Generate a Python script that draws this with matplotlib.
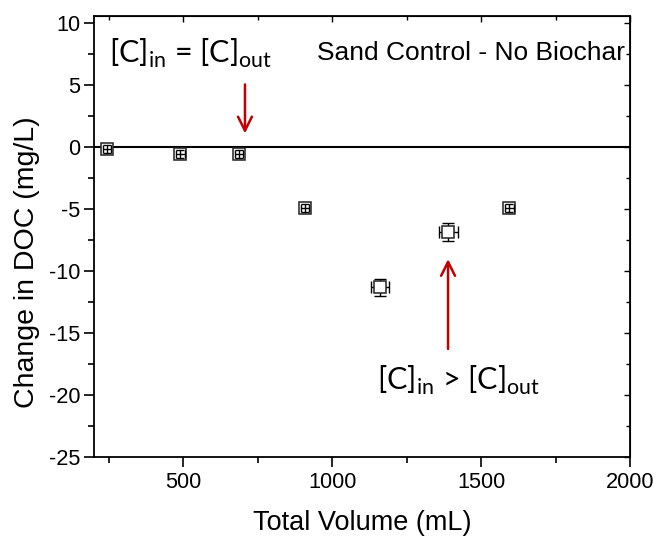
import matplotlib
matplotlib.use("Agg")
import matplotlib.pyplot as plt
import numpy as np
from matplotlib.ticker import MultipleLocator

# Data
volume = [244, 490, 686, 909, 1159, 1389, 1595]
doc_change = [-0.15, -0.55, -0.55, -4.9, -11.3, -6.85, -4.9]
vol_err = [14, 14, 14, 14, 30, 32, 14]
doc_err = [0.3, 0.3, 0.3, 0.3, 0.7, 0.7, 0.3]

xticks = [500, 1000, 1500, 2000]
yticks = [10, 5, 0, -5, -10, -15, -20, -25]

plt.rcParams['font.family'] = ['Liberation Sans', 'DejaVu Sans']
plt.rcParams['axes.unicode_minus'] = False

fig = plt.figure(figsize=(6.55, 5.39), dpi=100)
ax = fig.add_axes([94/655, 1 - 457/539, (630-94)/655, (457-16)/539])

ax.axhline(0, color='black', lw=1.5, zorder=1)

v = np.array(volume); d = np.array(doc_change)
ve = np.array(vol_err); de = np.array(doc_err)
big = ve > 20  # error bars that extend beyond the marker are drawn beneath it

ax.errorbar(v[big], d[big], xerr=ve[big], yerr=de[big], fmt='none',
            ecolor='black', elinewidth=1.0, capsize=4, capthick=1.0, zorder=1.5)
ax.plot(volume, doc_change, 's', mfc='white', mec='#222222', mew=1.1, ms=9,
        zorder=2)
ax.errorbar(v[~big], d[~big], xerr=ve[~big], yerr=de[~big], fmt='none',
            ecolor='black', elinewidth=1.0, capsize=3, capthick=1.0, zorder=3)

ax.set_xlim(200, 2000)
ax.set_ylim(-25, 10.6)
ax.set_xticks(xticks)
ax.set_yticks(yticks)
ax.xaxis.set_minor_locator(MultipleLocator(250))
ax.yaxis.set_minor_locator(MultipleLocator(2.5))
ax.tick_params(axis='both', which='major', direction='out', length=7, width=1.2,
               labelsize=15.7, top=False, right=False)
ax.tick_params(axis='x', which='major', pad=4)
ax.tick_params(axis='y', which='major', pad=3)
ax.tick_params(axis='both', which='minor', direction='out', length=4.5, width=1.2,
               top=False, right=False)
for s in ax.spines.values():
    s.set_linewidth(1.3)

# inner ticks on top and right
sec_x = ax.secondary_xaxis('top')
sec_x.set_xticks(xticks)
sec_x.xaxis.set_minor_locator(MultipleLocator(250))
sec_x.tick_params(which='major', direction='in', length=4, width=1.0, labeltop=False)
sec_x.tick_params(which='minor', direction='in', length=3, width=1.0)
sec_y = ax.secondary_yaxis('right')
sec_y.set_yticks(yticks)
sec_y.yaxis.set_minor_locator(MultipleLocator(2.5))
sec_y.tick_params(which='major', direction='in', length=4, width=1.0, labelright=False)
sec_y.tick_params(which='minor', direction='in', length=3, width=1.0)

ax.set_xlabel('Total Volume (mL)', fontsize=19.5, labelpad=12)
ax.set_ylabel('Change in DOC (mg/L)', fontsize=20.5, labelpad=6, y=0.442)

arrow_color = '#C00000'
ax.annotate('', xy=(707, 0.9), xytext=(707, 5.3),
            arrowprops=dict(arrowstyle='->', color=arrow_color, lw=1.8,
                            mutation_scale=25))
ax.annotate('', xy=(1389, -8.8), xytext=(1389, -16.5),
            arrowprops=dict(arrowstyle='->', color=arrow_color, lw=1.8,
                            mutation_scale=25))

ax.text(251, 7.6, r'[C]$_{\mathregular{in}}$ = [C]$_{\mathregular{out}}$',
        fontsize=22, family=['Lato', 'DejaVu Sans'], va='center', ha='left')
ax.text(1150, -18.8, r'[C]$_{\mathregular{in}}$ > [C]$_{\mathregular{out}}$',
        fontsize=22, family=['Lato', 'DejaVu Sans'], va='center', ha='left')
ax.text(1983, 7.6, 'Sand Control - No Biochar', fontsize=19,
        va='center', ha='right')

fig.savefig('out.png', dpi=100)
